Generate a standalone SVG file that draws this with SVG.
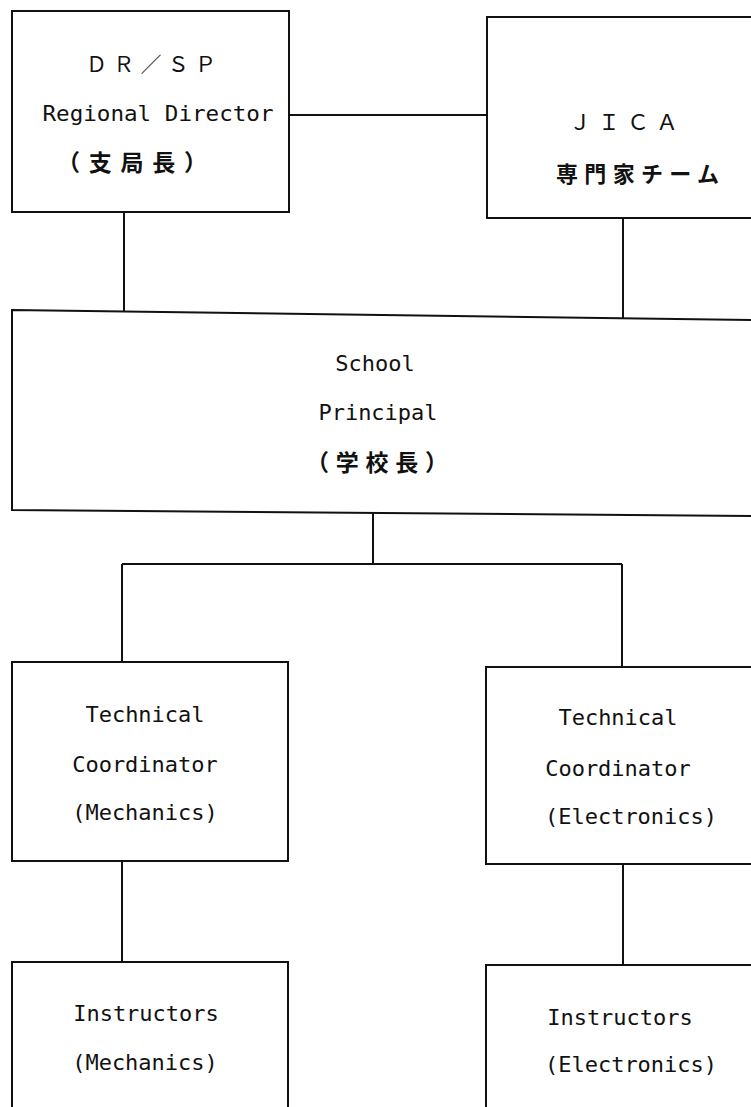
<svg xmlns="http://www.w3.org/2000/svg" width="751" height="1107" viewBox="0 0 751 1107">
<style>
.box{fill:#fff;stroke:#111;stroke-width:2}
.ln{fill:none;stroke:#111;stroke-width:2}
.t{font-family:"DejaVu Sans Mono","Liberation Mono",monospace;font-size:22px;fill:#111;text-anchor:middle}
.j{font-family:"Noto Sans CJK JP","Noto Sans CJK SC",sans-serif;fill:#111}
.k{font-weight:700}
</style>
<rect width="751" height="1107" fill="#fff"/>
<g id="connectors">
<path class="ln" d="M289 115 H487"/>
<path class="ln" d="M124 212 V311"/>
<path class="ln" d="M623 218 V320"/>
<path class="ln" d="M373 513 V564"/>
<path class="ln" d="M122 564 H622"/>
<path class="ln" d="M122 564 V662"/>
<path class="ln" d="M622 564 V667"/>
<path class="ln" d="M122 861 V962"/>
<path class="ln" d="M623 864 V965"/>
</g>
<g id="dr-sp">
<rect class="box" x="12" y="11" width="277" height="201"/>
<text class="j" x="86" y="72" font-size="21" textLength="130" lengthAdjust="spacing">ＤＲ／ＳＰ</text>
<text class="t" x="158" y="121" textLength="231" lengthAdjust="spacingAndGlyphs">Regional Director</text>
<text class="j k" x="57" y="171" font-size="23" textLength="150" lengthAdjust="spacing">（支局長）</text>
</g>
<g id="jica">
<rect class="box" x="487" y="17" width="280" height="201"/>
<text class="j" x="569" y="130" font-size="22" textLength="109" lengthAdjust="spacing">ＪＩＣＡ</text>
<text class="j k" x="556" y="182" font-size="22" textLength="163" lengthAdjust="spacing">専門家チーム</text>
</g>
<g id="school-principal">
<path class="box" d="M12 310 L760 320 L760 516 L12 510 Z"/>
<text class="t" x="375" y="371">School</text>
<text class="t" x="378" y="420">Principal</text>
<text class="j k" x="306" y="471" font-size="23" textLength="142" lengthAdjust="spacing">（学校長）</text>
</g>
<g id="tc-mechanics">
<rect class="box" x="12" y="662" width="276" height="199"/>
<text class="t" x="145" y="722">Technical</text>
<text class="t" x="145" y="772">Coordinator</text>
<text class="t" x="145" y="820">(Mechanics)</text>
</g>
<g id="tc-electronics">
<rect class="box" x="486" y="667" width="280" height="197"/>
<text class="t" x="618" y="725">Technical</text>
<text class="t" x="618" y="776">Coordinator</text>
<text class="t" x="631" y="824">(Electronics)</text>
</g>
<g id="inst-mechanics">
<rect class="box" x="12" y="962" width="276" height="160"/>
<text class="t" x="146" y="1021">Instructors</text>
<text class="t" x="145" y="1070">(Mechanics)</text>
</g>
<g id="inst-electronics">
<rect class="box" x="486" y="965" width="280" height="160"/>
<text class="t" x="620" y="1025">Instructors</text>
<text class="t" x="631" y="1072">(Electronics)</text>
</g>
</svg>
